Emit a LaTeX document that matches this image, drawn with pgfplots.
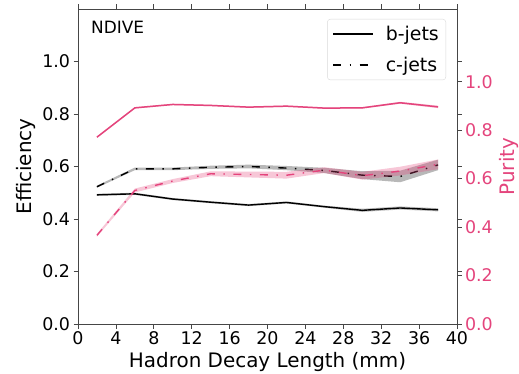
\documentclass[border=0pt]{standalone}
\usepackage{pgfplots}
\pgfplotsset{compat=1.18}
\usepackage{fontspec}
\setmainfont{DejaVu Sans}
\definecolor{pk}{RGB}{228,68,124}
\definecolor{axgray}{RGB}{70,70,70}
\begin{document}
\begin{tikzpicture}
\pgfplotsset{
  common/.style={
    scale only axis, width=379bp, height=315bp, at={(0,0)}, anchor=south west,
    xmin=0, xmax=40,
    tick align=outside, major tick length=4.5bp,
    axis line style={axgray, line width=0.8bp},
    every tick/.style={axgray, line width=0.8bp},
    /pgf/number format/assume math mode=true,
    tick label style={font=\fontsize{17.5}{20}\selectfont},
    label style={font=\fontsize{20}{24}\selectfont},
    yticklabel style={/pgf/number format/fixed, /pgf/number format/fixed zerofill, /pgf/number format/precision=1},
    ytick={0,0.2,0.4,0.6,0.8,1.0},
  },
  dd/.style={dash pattern=on 8bp off 8.5bp on 1.5bp off 8.5bp},
}
\begin{axis}[common,
  ymin=0, ymax=1.2,
  xtick={0,4,8,12,16,20,24,28,32,36,40},
  ylabel={Efficiency}, xlabel={Hadron Decay Length (mm)},
  legend style={at={(1,1)}, xshift=-11bp, yshift=-10bp, anchor=north east,
    draw=black!15, rounded corners=3bp, font=\fontsize{19}{22}\selectfont,
    inner xsep=5bp, inner ysep=5bp, row sep=11bp,
    /tikz/every odd column/.append style={column sep=10bp}},
  legend cell align=left,
  legend image code/.code={\draw[#1] (0bp,0bp) -- (40bp,0bp);},
]
% b-jet efficiency band
\addplot[fill=black, fill opacity=0.25, draw=none, forget plot] coordinates {
(2,0.496)(6,0.500)(10,0.480)(14,0.468)(18,0.457)(22,0.467)(26,0.451)(30,0.439)(34,0.448)(38,0.441)
(38,0.429)(34,0.436)(30,0.427)(26,0.443)(22,0.459)(18,0.449)(14,0.460)(10,0.472)(6,0.492)(2,0.488)} -- cycle;
\addplot[black, line width=1.4bp, forget plot] coordinates {
(2,0.492)(6,0.496)(10,0.476)(14,0.464)(18,0.453)(22,0.463)(26,0.447)(30,0.433)(34,0.442)(38,0.435)};
% c-jet efficiency band
\addplot[fill=black, fill opacity=0.28, draw=none, forget plot] coordinates {
(2,0.527)(6,0.596)(10,0.596)(14,0.603)(18,0.607)(22,0.602)(26,0.595)(30,0.582)(34,0.584)(38,0.626)
(38,0.586)(34,0.540)(30,0.552)(26,0.575)(22,0.586)(18,0.593)(14,0.591)(10,0.586)(6,0.586)(2,0.519)} -- cycle;
\addplot[black, line width=1.4bp, dd, forget plot] coordinates {
(2,0.523)(6,0.591)(10,0.591)(14,0.597)(18,0.600)(22,0.594)(26,0.585)(30,0.567)(34,0.562)(38,0.606)};
\addlegendimage{black, line width=1.4bp}
\addlegendentry{b-jets}
\addlegendimage{black, line width=1.4bp, dd}
\addlegendentry{c-jets}
\node[anchor=north west, inner sep=0pt, font=\fontsize{17}{20}\selectfont] at (rel axis cs:0,1) [xshift=13bp, yshift=-12bp] {NDIVE};
\end{axis}
\begin{axis}[common,
  ymin=0, ymax=1.3,
  axis y line*=right, axis x line=none,
  yticklabel style={text=pk},
  ylabel={Purity}, ylabel style={text=pk},
]
% b-jet purity band
\addplot[fill=pk, fill opacity=0.3, draw=none] coordinates {
(2,0.774)(6,0.895)(10,0.909)(14,0.905)(18,0.898)(22,0.902)(26,0.894)(30,0.895)(34,0.917)(38,0.901)
(38,0.891)(34,0.909)(30,0.889)(26,0.888)(22,0.896)(18,0.892)(14,0.899)(10,0.903)(6,0.889)(2,0.768)} -- cycle;
\addplot[pk, line width=1.5bp] coordinates {
(2,0.771)(6,0.892)(10,0.906)(14,0.902)(18,0.895)(22,0.899)(26,0.891)(30,0.892)(34,0.913)(38,0.896)};
% c-jet purity band
\addplot[fill=pk, fill opacity=0.3, draw=none] coordinates {
(2,0.372)(6,0.559)(10,0.598)(14,0.630)(18,0.629)(22,0.628)(26,0.647)(30,0.628)(34,0.649)(38,0.679)
(38,0.639)(34,0.613)(30,0.596)(26,0.623)(22,0.600)(18,0.605)(14,0.610)(10,0.582)(6,0.543)(2,0.360)} -- cycle;
\addplot[pk, line width=1.4bp, dd] coordinates {
(2,0.366)(6,0.551)(10,0.590)(14,0.620)(18,0.617)(22,0.614)(26,0.635)(30,0.612)(34,0.631)(38,0.659)};
\end{axis}
\pgfresetboundingbox
\path[use as bounding box] (-78bp,-50bp) rectangle (441bp,324bp);
\end{tikzpicture}
\end{document}
